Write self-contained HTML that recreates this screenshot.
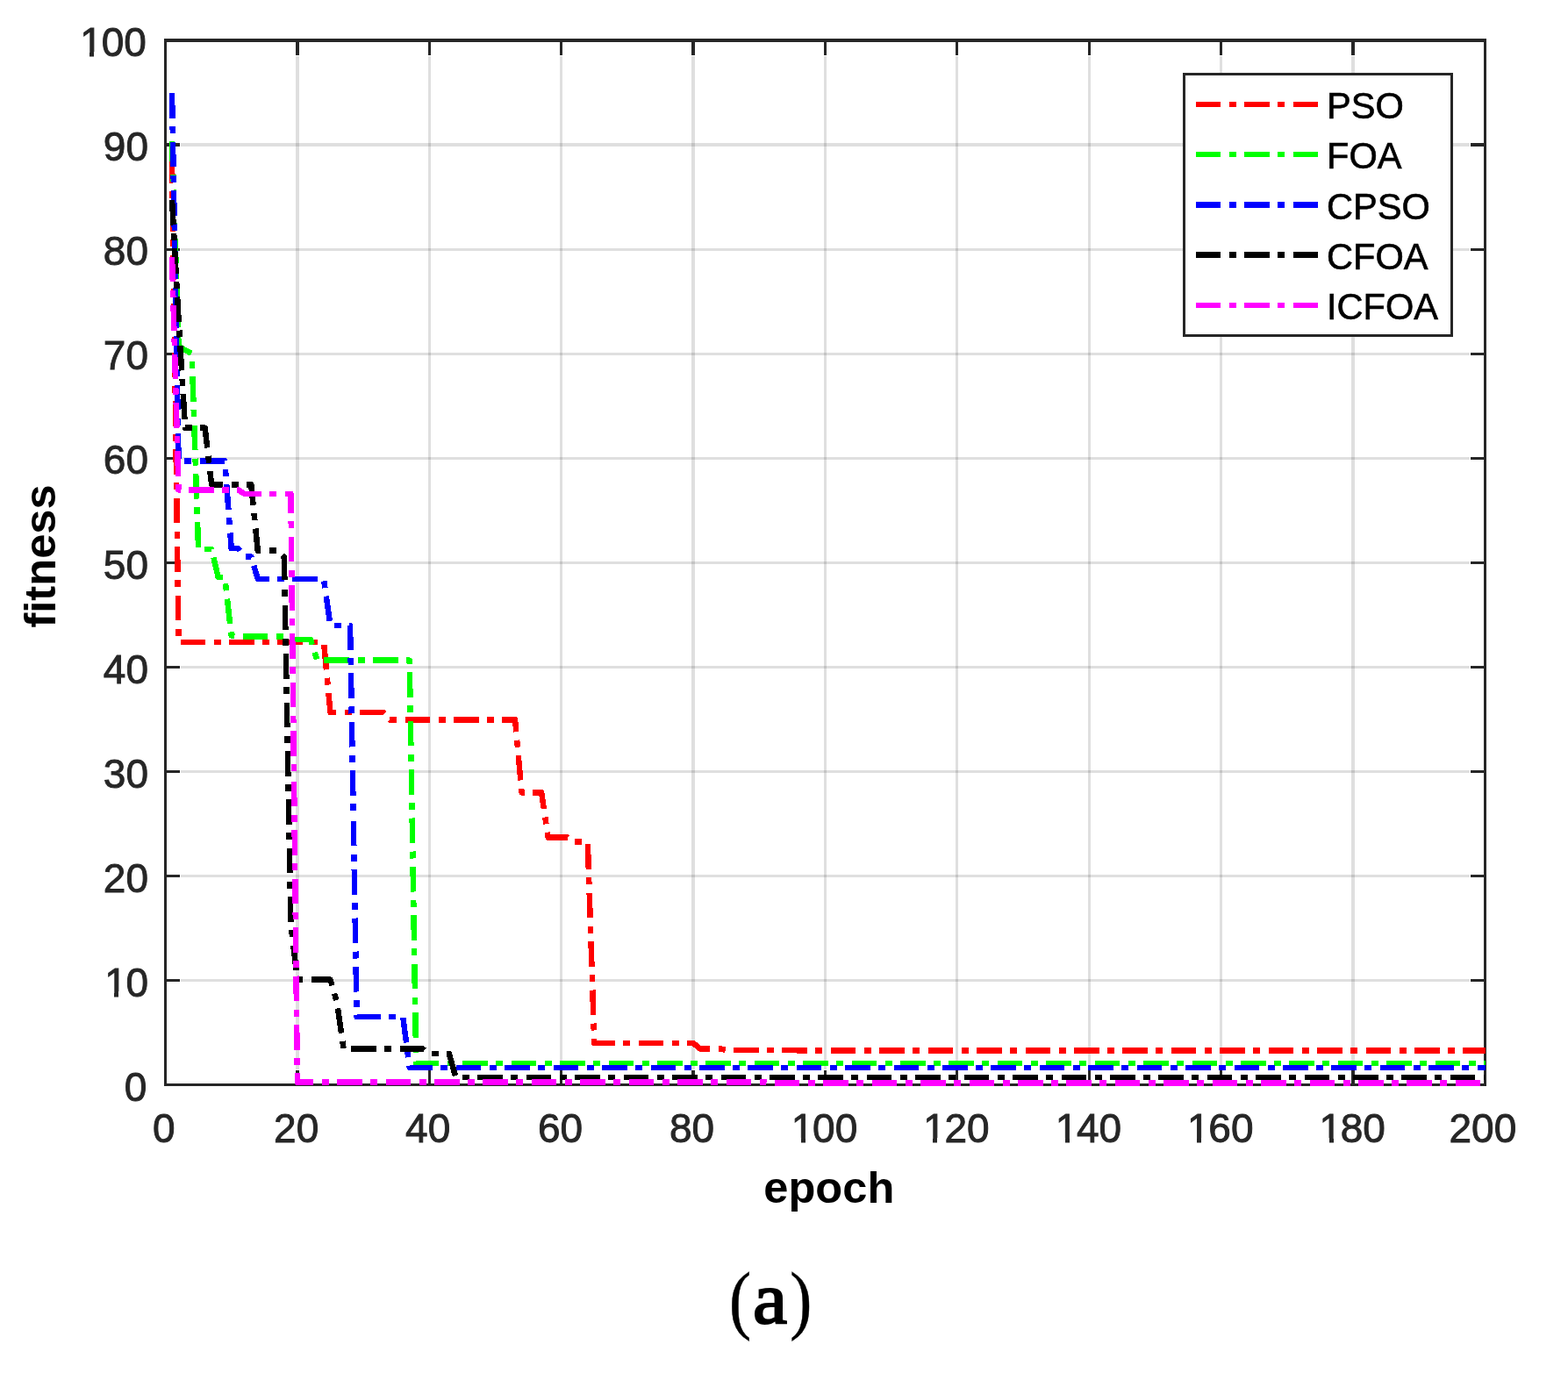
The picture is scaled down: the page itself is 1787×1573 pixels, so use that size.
<!DOCTYPE html>
<html lang="en"><head><meta charset="utf-8"><title>Fitness vs epoch (a)</title>
<style>html,body{margin:0;padding:0;background:#fff;}svg{display:block;}text{font-family:"Liberation Sans",sans-serif;}.tk{font-size:46px;fill:#262626;stroke:#262626;stroke-width:0.9px;}.lb{font-size:50.6px;font-weight:bold;fill:#000;}.lg{font-size:41.6px;fill:#000;stroke:#000;stroke-width:0.65px;}.cap{font-family:"Liberation Serif",serif;fill:#000;}</style></head><body>
<svg width="1787" height="1573" viewBox="0 0 1787 1573">
<rect x="0" y="0" width="1787" height="1573" fill="#fff"/>
<g fill="#262626" fill-opacity="0.15" shape-rendering="crispEdges"><rect x="337" y="64" width="4" height="1155"/><rect x="488" y="64" width="3" height="1155"/><rect x="638" y="64" width="3" height="1155"/><rect x="788" y="64" width="4" height="1155"/><rect x="939" y="64" width="3" height="1155"/><rect x="1089" y="64" width="3" height="1155"/><rect x="1240" y="64" width="3" height="1155"/><rect x="1390" y="64" width="3" height="1155"/><rect x="1540" y="64" width="4" height="1155"/><rect x="206" y="163" width="1469" height="4"/><rect x="206" y="283" width="1469" height="3"/><rect x="206" y="402" width="1469" height="3"/><rect x="206" y="521" width="1469" height="3"/><rect x="206" y="640" width="1469" height="3"/><rect x="206" y="759" width="1469" height="3"/><rect x="206" y="878" width="1469" height="3"/><rect x="206" y="997" width="1469" height="3"/><rect x="206" y="1116" width="1469" height="3"/></g>
<g fill="#262626" shape-rendering="crispEdges"><rect x="337" y="48" width="4" height="15"/><rect x="337" y="1220" width="4" height="15"/><rect x="488" y="48" width="3" height="15"/><rect x="488" y="1220" width="3" height="15"/><rect x="638" y="48" width="3" height="15"/><rect x="638" y="1220" width="3" height="15"/><rect x="788" y="48" width="4" height="15"/><rect x="788" y="1220" width="4" height="15"/><rect x="939" y="48" width="3" height="15"/><rect x="939" y="1220" width="3" height="15"/><rect x="1089" y="48" width="3" height="15"/><rect x="1089" y="1220" width="3" height="15"/><rect x="1240" y="48" width="3" height="15"/><rect x="1240" y="1220" width="3" height="15"/><rect x="1390" y="48" width="3" height="15"/><rect x="1390" y="1220" width="3" height="15"/><rect x="1540" y="48" width="4" height="15"/><rect x="1540" y="1220" width="4" height="15"/><rect x="190" y="163" width="15" height="4"/><rect x="1676" y="163" width="15" height="4"/><rect x="190" y="283" width="15" height="3"/><rect x="1676" y="283" width="15" height="3"/><rect x="190" y="402" width="15" height="3"/><rect x="1676" y="402" width="15" height="3"/><rect x="190" y="521" width="15" height="3"/><rect x="1676" y="521" width="15" height="3"/><rect x="190" y="640" width="15" height="3"/><rect x="1676" y="640" width="15" height="3"/><rect x="190" y="759" width="15" height="3"/><rect x="1676" y="759" width="15" height="3"/><rect x="190" y="878" width="15" height="3"/><rect x="1676" y="878" width="15" height="3"/><rect x="190" y="997" width="15" height="3"/><rect x="1676" y="997" width="15" height="3"/><rect x="190" y="1116" width="15" height="3"/><rect x="1676" y="1116" width="15" height="3"/><rect x="187" y="44" width="3" height="1194"/><rect x="1691" y="44" width="3" height="1194"/><rect x="187" y="44" width="1507" height="4"/><rect x="187" y="1235" width="1507" height="3"/></g>
<g class="tk">
<text x="174.11" y="1302.4">0</text>
<text x="312.12" y="1302.4">20</text>
<text x="462.12" y="1302.4">40</text>
<text x="612.92" y="1302.4">60</text>
<text x="762.92" y="1302.4">80</text>
<text x="900.53" y="1302.4" dx="1.3 -1.3">100</text>
<text x="1050.93" y="1302.4" dx="1.3 -1.3">120</text>
<text x="1201.33" y="1302.4" dx="1.3 -1.3">140</text>
<text x="1351.73" y="1302.4" dx="1.3 -1.3">160</text>
<text x="1502.13" y="1302.4" dx="1.3 -1.3">180</text>
<text x="1651.53" y="1302.4">200</text>
<text x="141.82" y="1254.7">0</text>
<text x="117.83" y="1135.7" dx="1.3 -1.3">10</text>
<text x="117.83" y="1016.6">20</text>
<text x="117.83" y="897.6">30</text>
<text x="117.83" y="778.5">40</text>
<text x="117.83" y="659.5">50</text>
<text x="117.83" y="540.4">60</text>
<text x="117.83" y="421.3">70</text>
<text x="117.83" y="302.3">80</text>
<text x="117.83" y="183.2">90</text>
<text x="90.05" y="64.2" dx="1.3 -1.3">100</text>
</g>
<g fill="#fff" shape-rendering="crispEdges"><rect x="904.13" y="1296.96" width="8.81" height="6.64"/><rect x="917.91" y="1296.96" width="8.50" height="6.64"/><rect x="1054.53" y="1296.96" width="8.81" height="6.64"/><rect x="1068.31" y="1296.96" width="8.50" height="6.64"/><rect x="1204.93" y="1296.96" width="8.81" height="6.64"/><rect x="1218.71" y="1296.96" width="8.50" height="6.64"/><rect x="1355.33" y="1296.96" width="8.81" height="6.64"/><rect x="1369.11" y="1296.96" width="8.50" height="6.64"/><rect x="1505.73" y="1296.96" width="8.81" height="6.64"/><rect x="1519.51" y="1296.96" width="8.50" height="6.64"/><rect x="121.44" y="1130.21" width="8.81" height="6.64"/><rect x="135.22" y="1130.21" width="8.50" height="6.64"/><rect x="93.65" y="58.76" width="8.81" height="6.64"/><rect x="107.43" y="58.76" width="8.50" height="6.64"/></g>
<text class="lb" text-anchor="middle" x="944.8" y="1370.6">epoch</text>
<text class="lb" text-anchor="middle" transform="translate(63.2 634) rotate(-90)">fitness</text>
<text class="cap" y="1509.6" stroke="#000"><tspan x="830.94" dy="0" font-size="86.53" stroke-width="0.5" textLength="25.06" lengthAdjust="spacingAndGlyphs">(</tspan><tspan x="857.95" dy="-1.2" font-size="82.76" stroke-width="2.1" textLength="39.09" lengthAdjust="spacingAndGlyphs">a</tspan><tspan x="900.13" dy="1.2" font-size="86.53" stroke-width="0.5" textLength="25.06" lengthAdjust="spacingAndGlyphs">)</tspan></text>
<clipPath id="c"><rect x="186.75" y="44.25" width="1507.5" height="1194.0"/></clipPath>
<g clip-path="url(#c)" fill="none" stroke-width="6.5" stroke-linejoin="round" stroke-dasharray="28.6 9.41 8 9.41" shape-rendering="crispEdges">
<path stroke="#ff0000" stroke-dashoffset="0.00" d="M196.02 179.93 L203.54 731.97 L368.98 731.97 L376.50 811.85 L436.66 811.85 L444.18 820.42 L587.06 820.42 L594.58 903.40 L617.14 903.40 L624.66 954.47 L647.22 954.47 L654.74 959.47 L669.78 959.47 L677.30 1188.88 L790.10 1188.88 L797.62 1195.31 L820.18 1195.31 L827.70 1196.86 L902.90 1196.86 L910.42 1197.45 L1692.50 1197.45"/>
<path stroke="#00ff00" stroke-dashoffset="0.00" d="M196.02 161.12 L203.54 394.82 L211.06 398.98 L218.58 403.15 L226.10 626.01 L241.14 626.01 L248.66 657.92 L256.18 657.92 L263.70 724.59 L271.22 725.30 L323.86 725.30 L331.38 728.99 L353.94 728.99 L361.46 752.68 L466.74 752.68 L474.26 1211.98 L1692.50 1211.98"/>
<path stroke="#0000ff" stroke-dashoffset="0.00" d="M196.02 106.24 L203.54 525.30 L256.18 525.30 L263.70 625.18 L271.22 625.18 L278.74 634.46 L286.26 634.46 L293.78 659.94 L368.98 659.94 L376.50 712.92 L399.06 712.92 L402.76 932.46"/>
<path stroke="#0000ff" stroke-dashoffset="52.18" d="M402.76 932.46 L406.58 1159.00 L459.22 1159.00 L463.21 1189.66"/>
<path stroke="#0000ff" stroke-dashoffset="30.30" d="M463.21 1189.66 L466.74 1216.86 L1692.50 1216.86"/>
<path stroke="#000000" stroke-dashoffset="0.00" d="M196.02 227.91 L203.54 363.86 L211.06 487.68 L233.62 487.68 L241.14 552.44 L286.26 552.44 L293.78 627.56 L316.34 627.56 L323.86 635.30 L324.38 664.08"/>
<path stroke="#000000" stroke-dashoffset="29.74" d="M324.38 664.08 L331.38 1053.16 L338.90 1116.62 L376.50 1116.62 L384.02 1142.69 L391.54 1195.55 L481.78 1195.55 L489.30 1201.14 L511.86 1201.14 L519.38 1227.81 L1692.50 1227.93"/>
<path stroke="#ff00ff" stroke-dashoffset="0.00" d="M196.02 292.79 L203.54 558.27 L271.22 558.27 L278.74 563.03 L331.38 563.03 L335.02 887.53"/>
<path stroke="#ff00ff" stroke-dashoffset="52.08" d="M335.02 887.53 L338.90 1233.52 L872.82 1233.52 L880.34 1234.48 L1692.50 1234.48"/>
</g>
<rect x="1349.5" y="84.5" width="305" height="298" fill="#fff" stroke="#262626" stroke-width="3" shape-rendering="crispEdges"/>
<line x1="1363" y1="119.00" x2="1502" y2="119.00" stroke="#ff0000" stroke-width="6.5" stroke-dasharray="28 10 8 9 28.6 9.4 8 10 28 100" shape-rendering="crispEdges"/>
<text class="lg" x="1512.0" y="135.10">PSO</text>
<line x1="1363" y1="176.00" x2="1502" y2="176.00" stroke="#00ff00" stroke-width="6.5" stroke-dasharray="28 10 8 9 28.6 9.4 8 10 28 100" shape-rendering="crispEdges"/>
<text class="lg" x="1512.0" y="192.35">FOA</text>
<line x1="1363" y1="233.50" x2="1502" y2="233.50" stroke="#0000ff" stroke-width="6.5" stroke-dasharray="28 10 8 9 28.6 9.4 8 10 28 100" shape-rendering="crispEdges"/>
<text class="lg" x="1512.0" y="249.60">CPSO</text>
<line x1="1363" y1="290.50" x2="1502" y2="290.50" stroke="#000000" stroke-width="6.5" stroke-dasharray="28 10 8 9 28.6 9.4 8 10 28 100" shape-rendering="crispEdges"/>
<text class="lg" x="1512.0" y="306.85">CFOA</text>
<line x1="1363" y1="348.00" x2="1502" y2="348.00" stroke="#ff00ff" stroke-width="6.5" stroke-dasharray="28 10 8 9 28.6 9.4 8 10 28 100" shape-rendering="crispEdges"/>
<text class="lg" x="1512.0" y="364.10">ICFOA</text>
</svg></body></html>
